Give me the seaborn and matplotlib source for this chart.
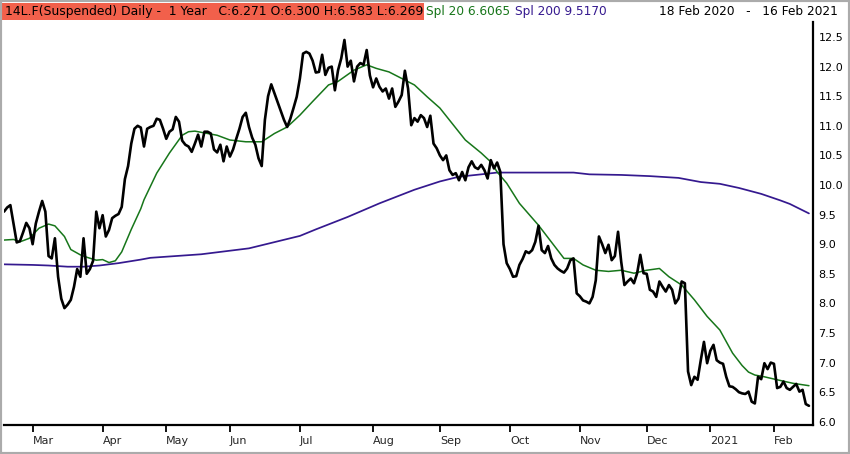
import numpy as np
import pandas as pd
import matplotlib
matplotlib.use("Agg")
import matplotlib.pyplot as plt
import seaborn as sns
from matplotlib.patches import Rectangle

# ---------------- data ----------------
start_date = "2020-02-18"
end_date = "2021-02-16"
holidays = ["2020-04-10", "2020-04-13", "2020-05-01", "2020-12-24",
            "2020-12-25", "2020-12-31", "2021-01-01"]

close = [
    9.55, 9.62, 9.66, 9.35, 9.03, 9.05, 9.20, 9.36, 9.27, 9.00,
    9.35, 9.55, 9.73, 9.55, 8.80, 8.76, 9.10, 8.45, 8.08, 7.92,
    7.98, 8.06, 8.28, 8.58, 8.45, 9.10, 8.50, 8.58, 8.72, 9.55,
    9.27, 9.49, 9.13, 9.24, 9.44, 9.48, 9.51, 9.63, 10.10, 10.32,
    10.70, 10.95, 11.00, 10.97, 10.65, 10.95, 10.98, 11.00, 11.12, 11.10,
    10.95, 10.78, 10.90, 10.94, 11.15, 11.07, 10.75, 10.68, 10.65, 10.56,
    10.70, 10.85, 10.65, 10.90, 10.90, 10.87, 10.60, 10.55, 10.68, 10.40,
    10.65, 10.48, 10.60, 10.78, 10.95, 11.15, 11.22, 10.98, 10.80, 10.68,
    10.45, 10.32, 11.10, 11.50, 11.70, 11.55, 11.40, 11.25, 11.10, 10.98,
    11.12, 11.30, 11.49, 11.80, 12.22, 12.25, 12.22, 12.10, 11.90, 11.91,
    12.20, 11.86, 11.98, 12.00, 11.60, 11.94, 12.14, 12.45, 12.00, 12.10,
    11.75, 12.00, 12.06, 12.03, 12.28, 11.85, 11.65, 11.80, 11.66, 11.58,
    11.63, 11.46, 11.63, 11.32, 11.41, 11.52, 11.93, 11.63, 11.01, 11.13,
    11.07, 11.18, 11.13, 10.98, 11.17, 10.70, 10.62, 10.50, 10.42, 10.50,
    10.25, 10.17, 10.20, 10.08, 10.22, 10.08, 10.30, 10.40, 10.30, 10.27,
    10.34, 10.25, 10.11, 10.42, 10.28, 10.38, 10.22, 9.00, 8.68, 8.58,
    8.45, 8.46, 8.65, 8.75, 8.88, 8.85, 8.90, 9.04, 9.31, 8.90,
    8.85, 8.97, 8.76, 8.65, 8.59, 8.55, 8.52, 8.59, 8.73, 8.76,
    8.17, 8.12, 8.05, 8.03, 8.00, 8.11, 8.39, 9.13, 9.00, 8.85,
    8.99, 8.73, 8.80, 9.21, 8.70, 8.31, 8.37, 8.42, 8.34, 8.51,
    8.82, 8.51, 8.50, 8.23, 8.20, 8.11, 8.37, 8.28, 8.20, 8.31,
    8.23, 8.00, 8.08, 8.37, 8.34, 6.85, 6.62, 6.76, 6.71, 7.04,
    7.35, 6.99, 7.20, 7.30, 7.04, 7.00, 6.98, 6.76, 6.60, 6.59,
    6.55, 6.50, 6.48, 6.47, 6.51, 6.34, 6.31, 6.76, 6.72, 6.99,
    6.89, 7.00, 6.98, 6.57, 6.59, 6.68, 6.57, 6.54, 6.59, 6.64,
    6.51, 6.54, 6.30, 6.27,
]

# Spl 20 (green) read at trading-day numbers
spl20_day = [0, 3, 5, 8, 11, 14, 16, 19, 21, 24, 26, 29, 31, 33, 35, 37, 40,
             43, 44, 48, 52, 56, 58, 60, 63, 67, 71, 76, 81, 85, 89, 93, 97,
             102, 105, 110, 114, 117, 121, 125, 129, 133, 137, 141, 145, 150,
             153, 155, 158, 162, 168, 172, 176, 179, 182, 186, 190, 194, 198,
             202, 206, 209, 213, 217, 221, 225, 229, 232, 234, 236, 239, 243,
             248, 253]
spl20 = [9.07, 9.08, 9.04, 9.10, 9.27, 9.34, 9.31, 9.13, 8.91, 8.82, 8.78,
         8.73, 8.74, 8.69, 8.72, 8.87, 9.25, 9.60, 9.75, 10.20, 10.54, 10.84,
         10.90, 10.91, 10.88, 10.84, 10.76, 10.73, 10.73, 10.87, 10.98, 11.18,
         11.41, 11.69, 11.75, 11.94, 12.03, 11.97, 11.91, 11.80, 11.69,
         11.49, 11.30, 11.03, 10.76, 10.54, 10.39, 10.22, 10.03, 9.69, 9.32,
         9.04, 8.76, 8.76, 8.65, 8.56, 8.54, 8.56, 8.51, 8.56, 8.59, 8.45,
         8.31, 8.06, 7.78, 7.55, 7.16, 6.95, 6.84, 6.79, 6.76, 6.71, 6.65,
         6.61]

# Spl 200 (purple) read at trading-day numbers
spl200_day = [0, 9, 14, 20, 25, 30, 36, 43, 46, 62, 77, 93, 98, 108, 118,
              129, 137, 143, 150, 155, 163, 172, 179, 184, 194, 203, 212,
              219, 225, 231, 238, 244, 247, 253]
spl200 = [8.66, 8.65, 8.64, 8.62, 8.62, 8.64, 8.68, 8.74, 8.77, 8.83, 8.93,
          9.14, 9.25, 9.46, 9.69, 9.92, 10.06, 10.14, 10.18, 10.21, 10.21,
          10.21, 10.21, 10.18, 10.17, 10.15, 10.12, 10.05, 10.02, 9.95, 9.85,
          9.74, 9.68, 9.52]

month_starts = ["2020-03", "2020-04", "2020-05", "2020-06", "2020-07",
                "2020-08", "2020-09", "2020-10", "2020-11", "2020-12",
                "2021-01", "2021-02"]
month_labels = ["Mar", "Apr", "May", "Jun", "Jul", "Aug", "Sep", "Oct",
                "Nov", "Dec", "2021", "Feb"]
y_ticks = [6.0, 6.5, 7.0, 7.5, 8.0, 8.5, 9.0, 9.5, 10.0, 10.5, 11.0, 11.5,
           12.0, 12.5]

header_main = "14L.F(Suspended) Daily -  1 Year   C:6.271 O:6.300 H:6.583 L:6.269"
header_spl20 = "Spl 20 6.6065"
header_spl200 = "Spl 200 9.5170"
header_range = "18 Feb 2020   -   16 Feb 2021"

# ---------------- build frames ----------------
dates = pd.bdate_range(start_date, end_date, freq="C", holidays=holidays)
n = min(len(dates), len(close))
df = pd.DataFrame({"day": np.arange(n), "date": dates[:n], "close": close[:n]})
df20 = pd.DataFrame({"day": spl20_day, "value": spl20})
df200 = pd.DataFrame({"day": spl200_day, "value": spl200})

tick_pos = []
for m in month_starts:
    idx = np.searchsorted(df["date"].values, np.datetime64(pd.Timestamp(m + "-01")))
    tick_pos.append(int(idx))

# ---------------- draw ----------------
sns.set_style("white")
plt.rcParams["font.family"] = ["DejaVu Sans"]

W, H = 850, 454
fig = plt.figure(figsize=(W / 100, H / 100), dpi=100)

def fx(px):
    return px / W

def fy(py):
    return 1 - py / H

ax = fig.add_axes([fx(4), fy(425), fx(813) - fx(4), fy(22) - fy(425)])

GREEN = "#17761a"
PURPLE = "#35198f"

sns.lineplot(data=df200, x="day", y="value", ax=ax, color=PURPLE,
             linewidth=1.25, estimator=None, legend=False)
sns.lineplot(data=df20, x="day", y="value", ax=ax, color=GREEN,
             linewidth=1.1, estimator=None, legend=False)
sns.lineplot(data=df, x="day", y="close", ax=ax, color="black",
             linewidth=1.9, estimator=None, legend=False)

x_right = (813 - 3.9) / 3.182
ax.set_xlim(0, x_right)
ax.set_ylim(12.5 - (425 - 37) / 59.2, 12.5 + (37 - 22) / 59.2)

ax.set_xlabel("")
ax.set_ylabel("")
for s in ["left", "top"]:
    ax.spines[s].set_visible(False)
for s in ["right", "bottom"]:
    ax.spines[s].set_visible(True)
    ax.spines[s].set_color("black")
    ax.spines[s].set_linewidth(1.6)

ax.yaxis.tick_right()
ax.set_yticks(y_ticks)
ax.set_yticklabels([f"{v:.1f}" for v in y_ticks])
ax.tick_params(axis="y", which="both", right=True, left=False, length=0,
               pad=4, labelsize=8, labelcolor="black")

ax.set_xticks(tick_pos)
ax.set_xticklabels(month_labels, ha="left")
ax.tick_params(axis="x", which="both", bottom=True, length=5, width=1.3,
               color="black", pad=3, labelsize=8, direction="out")
ax.grid(False)

# header band
fig.patches.append(Rectangle((fx(2), fy(20)), fx(424) - fx(2), fy(3) - fy(20),
                             transform=fig.transFigure, facecolor="#f2604b",
                             edgecolor="none", zorder=0))
fig.text(fx(5), fy(11.5), header_main, fontsize=8.9, color="black",
         va="center", ha="left")
fig.text(fx(426), fy(11.5), header_spl20, fontsize=8.7, color=GREEN,
         va="center", ha="left")
fig.text(fx(515), fy(11.5), header_spl200, fontsize=8.7, color=PURPLE,
         va="center", ha="left")
fig.text(fx(838), fy(11.5), header_range, fontsize=8.7, color="black",
         va="center", ha="right")

# outer grey frame
fig.patches.append(Rectangle((0, 0), 1, 1, transform=fig.transFigure,
                             facecolor="none", edgecolor="#ababab",
                             linewidth=3.0, zorder=5))

fig.savefig("out.png", dpi=100)
